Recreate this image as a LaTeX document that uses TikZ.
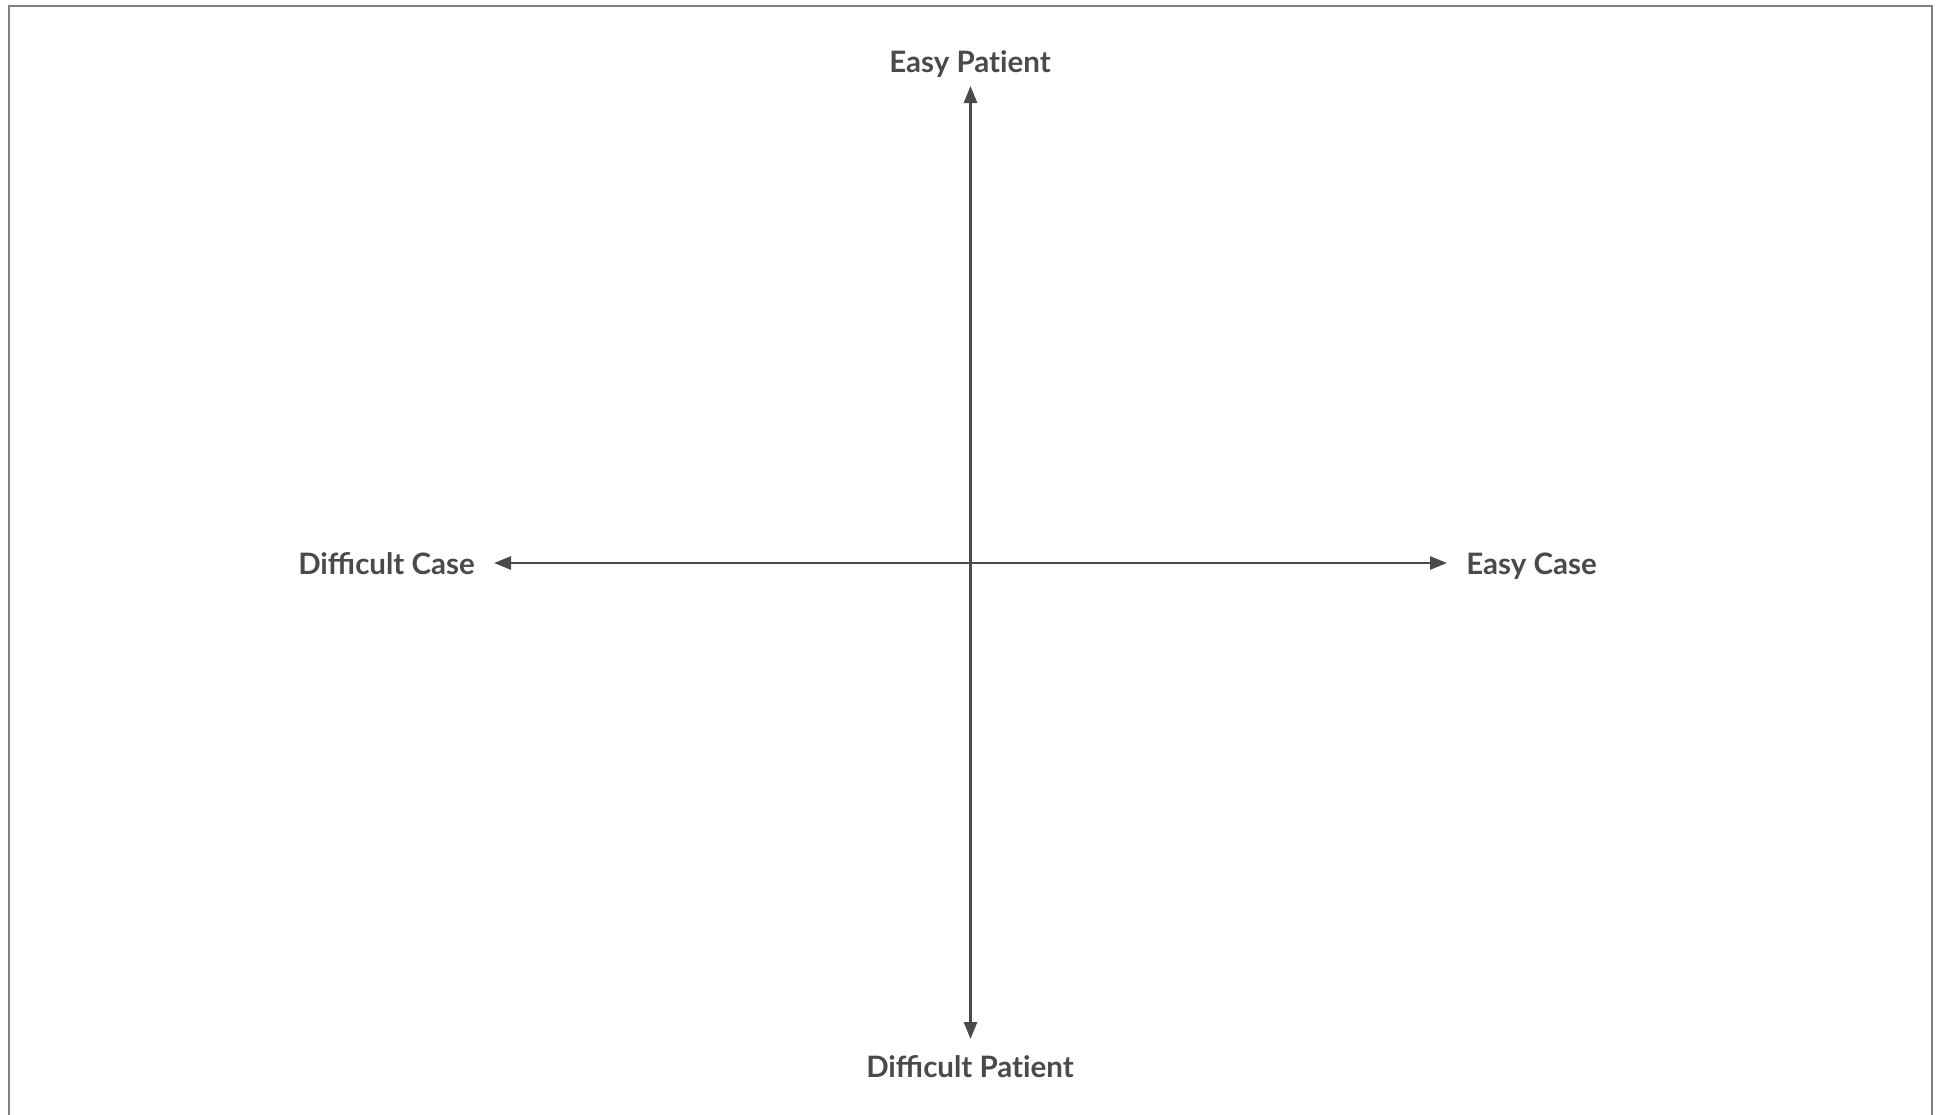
\documentclass[tikz,border=0pt]{standalone}
\usepackage{fontspec}
\setmainfont{Lato}
\usetikzlibrary{arrows.meta}
\definecolor{ink}{HTML}{4A4A4A}
\definecolor{frame}{HTML}{808080}
\tikzset{
  lbl/.style={font=\fontsize{29.5}{31}\selectfont\bfseries, text=ink, inner sep=0pt, anchor=base},
  axis/.style={draw=ink, line width=2.7pt, {Triangle[length=17pt,width=13pt]}-{Triangle[length=17pt,width=13pt]}}
}
\begin{document}
\begin{tikzpicture}[x=1pt,y=-1pt]
\useasboundingbox (0,0) rectangle (1937,1114);
\draw[frame, line width=2pt] (8.5,1130) -- (8.5,5.7) -- (1932,5.7) -- (1932,1130);
\coordinate (top) at (970.5,86);
\coordinate (bot) at (970.5,1039);
\coordinate (lft) at (494,563);
\coordinate (rgt) at (1447,563);
\draw[axis] (bot) -- (top);
\draw[axis] (lft) -- (rgt);
\node[lbl] (ep) at (970,72.7) {Easy Pat\kern0pt ient};
\node[lbl] (dp) at (970,1077) {Difficult Pat\kern0pt ient};
\node[lbl] (dc) at (386.5,574) {Difficult Case};
\node[lbl] (ec) at (1531.5,574) {Easy Case};
\end{tikzpicture}
\end{document}
